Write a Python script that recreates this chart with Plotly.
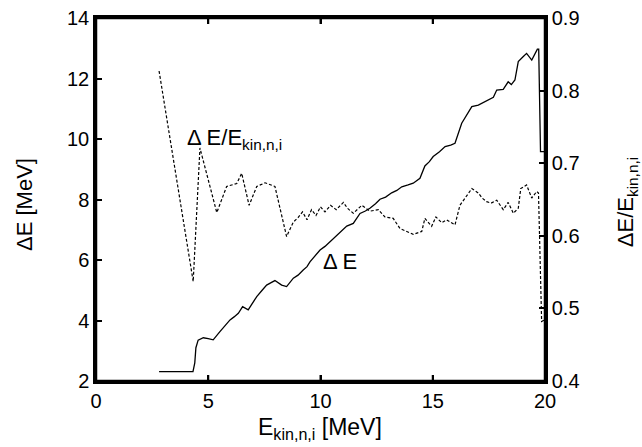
import plotly.graph_objects as go

# Delta E [MeV] vs E_kin,n,i [MeV] (solid, left axis)
e_de = [2.81, 4.32, 4.40, 4.45, 4.55, 4.78, 5.00, 5.22, 5.52, 5.75, 5.97, 6.15, 6.34, 6.53,
        6.78, 6.95, 7.16, 7.40, 7.60, 7.80, 7.97, 8.27, 8.49, 8.79, 9.00, 9.23, 9.40, 9.53,
        9.75, 9.98, 10.20, 10.42, 10.60, 10.79, 11.00, 11.17, 11.46, 11.76, 12.00, 12.20,
        12.45, 12.65, 12.90, 13.17, 13.40, 13.62, 13.90, 14.13, 14.43, 14.65, 14.85, 15.02,
        15.30, 15.55, 15.80, 15.99, 16.29, 16.50, 16.74, 17.03, 17.20, 17.40, 17.70, 17.85,
        18.14, 18.36, 18.50, 18.66, 18.81, 19.00, 19.18, 19.41, 19.66, 19.72, 19.80, 19.96]
de = [2.31, 2.31, 2.60, 3.10, 3.35, 3.43, 3.40, 3.36, 3.63, 3.85, 4.02, 4.12, 4.24, 4.46,
      4.35, 4.55, 4.79, 5.00, 5.17, 5.25, 5.32, 5.17, 5.12, 5.40, 5.50, 5.67, 5.78, 5.94,
      6.12, 6.33, 6.45, 6.60, 6.75, 6.88, 7.02, 7.12, 7.21, 7.54, 7.62, 7.71, 7.86, 8.01,
      8.08, 8.22, 8.30, 8.42, 8.48, 8.54, 8.70, 9.11, 9.25, 9.42, 9.58, 9.75, 9.80, 9.86,
      10.52, 10.80, 11.07, 11.12, 11.18, 11.27, 11.38, 11.62, 11.64, 11.89, 11.80, 11.95,
      12.56, 12.70, 12.83, 12.61, 12.97, 12.97, 9.58, 9.58]

# Delta E / E_kin,n,i (dashed, right axis)
e_ratio = [2.81, 4.33, 4.63, 5.38, 5.82, 6.27, 6.49, 6.82, 7.16, 7.53, 7.97, 8.49, 8.79,
           9.00, 9.20, 9.40, 9.60, 9.80, 10.00, 10.20, 10.45, 10.70, 11.02, 11.20, 11.46,
           11.84, 12.20, 12.58, 12.87, 13.24, 13.54, 13.80, 14.13, 14.51, 14.65, 14.95,
           15.14, 15.40, 15.62, 15.99, 16.21, 16.44, 16.74, 17.03, 17.20, 17.40, 17.60,
           17.85, 18.14, 18.36, 18.59, 18.81, 18.92, 19.18, 19.41, 19.63, 19.71, 19.85, 19.96]
ratio = [0.827, 0.537, 0.721, 0.632, 0.668, 0.672, 0.686, 0.642, 0.668, 0.673, 0.668,
         0.599, 0.619, 0.625, 0.633, 0.622, 0.636, 0.628, 0.640, 0.633, 0.642, 0.636,
         0.646, 0.638, 0.631, 0.642, 0.634, 0.636, 0.626, 0.624, 0.610, 0.606, 0.602,
         0.606, 0.624, 0.613, 0.626, 0.618, 0.622, 0.615, 0.642, 0.652, 0.665, 0.659,
         0.652, 0.647, 0.645, 0.649, 0.636, 0.646, 0.631, 0.638, 0.665, 0.670, 0.652,
         0.661, 0.659, 0.482, 0.484]

x_ticks = [0, 5, 10, 15, 20]
y_ticks = [2, 4, 6, 8, 10, 12, 14]
y2_ticks = [0.4, 0.5, 0.6, 0.7, 0.8, 0.9]

FONT = "Liberation Sans, Arial, sans-serif"

fig = go.Figure()
fig.add_trace(go.Scatter(x=e_de, y=de, mode="lines", yaxis="y",
                         line=dict(color="black", width=1.3), showlegend=False))
fig.add_trace(go.Scatter(x=e_ratio, y=ratio, mode="lines", yaxis="y2",
                         line=dict(color="black", width=1.2, dash="3px,2px"),
                         showlegend=False))


def axis_style():
    return dict(showgrid=False, zeroline=False, showline=True, linecolor="black",
                linewidth=2.5, ticks="inside", ticklen=6, tickwidth=2, tickcolor="black",
                layer="above traces",
                tickfont=dict(family=FONT, size=20, color="black"))


# inner x tick marks (bottom and top), placed at the x tick values
tick_shapes = []
for t in x_ticks[1:-1]:
    tick_shapes.append(dict(type="line", xref="x", yref="paper", x0=t, x1=t,
                            ysizemode="pixel", yanchor=0, y0=0, y1=6,
                            line=dict(color="black", width=2)))
    tick_shapes.append(dict(type="line", xref="x", yref="paper", x0=t, x1=t,
                            ysizemode="pixel", yanchor=1, y0=0, y1=-6,
                            line=dict(color="black", width=2)))
frame = dict(type="rect", xref="paper", yref="paper", x0=0, x1=1, y0=0, y1=1,
             line=dict(color="black", width=2.5), layer="above")

fig.update_layout(
    width=642, height=447,
    margin=dict(l=96, r=97, t=18, b=66, autoexpand=False),
    paper_bgcolor="white", plot_bgcolor="rgba(0,0,0,0)",
    font=dict(family=FONT, size=20, color="black"),
    xaxis=dict(range=[0, 20], tickvals=x_ticks, mirror="ticks", **axis_style()),
    yaxis=dict(range=[2, 14], tickvals=y_ticks, mirror=True, ticksuffix="  ",
               **axis_style()),
    yaxis2=dict(range=[0.4, 0.9], tickvals=y2_ticks, tickformat=".1f", overlaying="y",
                side="right", tickprefix="  ", anchor="x", **axis_style()),
    shapes=tick_shapes + [frame],
    annotations=[
        dict(text="ΔE [MeV]", xref="paper", yref="paper", x=-0.158, y=0.485,
             textangle=-90, showarrow=False, xanchor="center", yanchor="middle",
             font=dict(size=22)),
        dict(text="ΔE/E<sub>kin,n,i</sub>",
             xref="paper", yref="paper", x=1.183, y=0.493,
             textangle=-90, showarrow=False, xanchor="center", yanchor="middle",
             font=dict(size=22)),
        dict(text="E<sub>kin,n,i</sub> [MeV]",
             xref="paper", yref="paper", x=0.499, y=-0.13,
             showarrow=False, xanchor="center", yanchor="middle", font=dict(size=23)),
        dict(text="Δ E/E<sub>kin,n,i</sub>",
             xref="x", yref="y", x=3.95, y=10.0, showarrow=False,
             xanchor="left", yanchor="middle", font=dict(size=22)),
        dict(text="Δ E", xref="x", yref="y", x=10.0, y=5.95, showarrow=False,
             xanchor="left", yanchor="middle", font=dict(size=22)),
    ],
)

fig.write_html("out.html", config={"displayModeBar": False},
               post_script="document.body.style.margin='0px';document.body.style.padding='0px';")
